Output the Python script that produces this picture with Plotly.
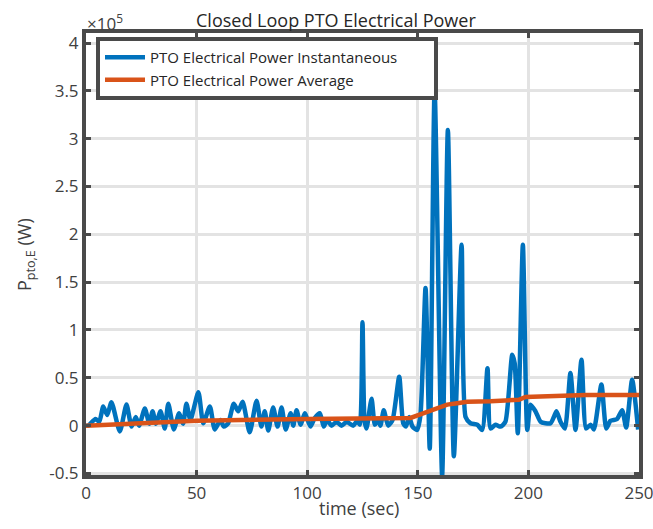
import plotly.graph_objects as go

# ---- data ----
t_inst = [0, 1.0, 4.3, 6.0, 7.8, 9.6, 11.5, 15.3, 18.3, 20.6, 22.5, 24.0, 26.6, 28.6, 30.1, 31.6,
          33.7, 35.6, 37.2, 39.7, 42.1, 43.9, 45.4, 47.2, 50.8, 53.0, 56.0, 58.2, 60.8, 62.3,
          64.3, 66.8, 68.8, 70.8, 74.0, 77.1, 79.3, 80.8, 82.4, 84.6, 86.6, 88.4, 90.3, 92.5,
          93.7, 95.2, 97.0, 98.9, 99.7, 101.5, 103.4, 105.7, 107.5, 109.0, 111.0, 113.2, 115.5,
          117.8, 120.8, 122.6, 123.8, 125.0, 125.9, 126.8, 129.1, 130.6, 132.1, 133.1, 134.6,
          136.6, 138.6, 141.6, 143.4, 144.6, 146.1, 147.6, 149.7, 151.2, 153.5, 155.4, 157.6,
          161.0, 163.6, 166.3, 169.8, 171.6, 173.8, 176.9, 179.1, 181.5, 182.9, 185.1, 187.4,
          189.6, 192.7, 193.8, 195.2, 197.5, 199.5, 201.0, 203.2, 205.5, 207.7, 210.0, 211.5,
          212.7, 214.5, 216.5, 219.0, 221.3, 224.0, 226.1, 228.1, 229.6, 233.0, 235.2, 237.1,
          240.1, 242.4, 244.2, 246.9, 249.6]
p_inst = [0, 0, 7000, 4000, 20000, 11000, 24500, -6000, 22000, -1000, 9000, 0, 18000, 2000,
          15000, 2000, 15000, -3000, 23000, -4000, 13000, 2000, 23000, 6000, 35000, 2500, 20000,
          -4000, 6000, -1000, 2500, 23000, 15000, 25000, -7000, 26000, -1000, 15000, -5000,
          19000, -1000, 19000, -4000, 13000, 0, 16000, 1000, 13000, 9000, -1000, 8000, 13000,
          -1000, 6000, 0, 4000, 0, 4000, 0, 5000, 1000, 108000, 6000, -3000, 28000, 1000, 6000,
          0, 16000, 0, 6000, 51000, 2500, -1000, 9000, -1000, -4500, 11000, 144000, -24000,
          351000, -52000, 309000, -32000, 189000, 9000, 2500, 1000, -4500, 60000, -3000, 1000,
          -1000, 4000, 74000, 65000, -8000, 189000, -4500, 22000, 15000, 4000, 2500, 2500, 9000,
          15000, 4000, -3000, 55000, -4500, 69000, -3000, 1000, -4000, 43000, -3000, 5000, 7000,
          16000, -2000, 48000, -4000]

t_avg = [0, 50, 100, 146.7, 152.7, 157.0, 160.0, 163.3, 167.8, 172.3, 182.9, 195.7, 198.7,
         218.0, 225.8, 250.0]
p_avg = [0, 5000, 7000, 8000, 13000, 16500, 18500, 22000, 23500, 25000, 25500, 27000, 30000,
         31000, 32000, 32000]

x_ticks = [0, 50, 100, 150, 200, 250]
y_ticks = [-50000, 0, 50000, 100000, 150000, 200000, 250000, 300000, 350000, 400000]
y_tick_text = ["-0.5", "0", "0.5", "1", "1.5", "2", "2.5", "3", "3.5", "4"]

FONT = "Open Sans"
AX = "#4a4a4a"
TXT = "#404040"

W, H = 653, 529
L = 86
T = 33
R = W - 639
B = H - 475
PW, PH = W - L - R, H - T - B


def px_x(px):
    return (px - L) / PW


def px_y(py):
    return (H - B - py) / PH


fig = go.Figure()
fig.add_trace(go.Scatter(x=t_inst, y=p_inst, mode="lines",
                         name="PTO Electrical Power Instantaneous" + "\u00a0" * 8,
                         line=dict(color="#0072BD", width=4.5, shape="spline", smoothing=0.6)))
fig.add_trace(go.Scatter(x=t_avg, y=p_avg, mode="lines",
                         name="PTO Electrical Power Average",
                         line=dict(color="#D95319", width=4.5)))

axis_common = dict(showline=True, linewidth=4, linecolor=AX, mirror="ticks",
                   ticks="inside", ticklen=5, tickwidth=3, tickcolor=AX,
                   showgrid=True, gridcolor="#e3e3e3", gridwidth=3, zeroline=False,
                   automargin=False, ticklabeloverflow="allow",
                   tickfont=dict(family=FONT, size=17, color=TXT))

fig.update_xaxes(range=[0, 250], tickvals=x_ticks, **axis_common)
fig.update_yaxes(range=[-51600, 410500], tickvals=y_ticks, ticktext=y_tick_text, **axis_common)

fig.add_annotation(text="time (sec)", xref="paper", yref="paper",
                   x=px_x(359), y=px_y(508), xanchor="center", yanchor="middle",
                   showarrow=False, font=dict(family=FONT, size=18, color=TXT))
fig.add_annotation(text="Closed Loop PTO Electrical Power", xref="paper", yref="paper",
                   x=px_x(336), y=px_y(20), xanchor="center", yanchor="middle",
                   showarrow=False, font=dict(family=FONT, size=18, color="#262626"))
fig.add_annotation(text="×10<sup>5</sup>", xref="paper", yref="paper",
                   x=px_x(85), y=px_y(22), xanchor="left", yanchor="middle",
                   showarrow=False, font=dict(family=FONT, size=17, color=TXT))
fig.add_annotation(text="P<sub>pto,E</sub> (W)", xref="paper", yref="paper",
                   x=px_x(25), y=px_y(255), xanchor="center", yanchor="middle",
                   textangle=-90, showarrow=False, font=dict(family=FONT, size=18, color=TXT))

fig.update_layout(
    width=W, height=H,
    margin=dict(l=L, r=R, t=T, b=B),
    paper_bgcolor="white", plot_bgcolor="white",
    showlegend=True,
    legend=dict(x=px_x(96), y=px_y(37), xanchor="left", yanchor="top",
                bgcolor="white", bordercolor=AX, borderwidth=4,
                font=dict(family=FONT, size=15, color="#262626"),
                itemwidth=40, tracegroupgap=0),
)

fig.write_html("out.html", config={"displayModeBar": False},
               post_script="document.body.style.margin='0';document.body.style.overflow='hidden';")
